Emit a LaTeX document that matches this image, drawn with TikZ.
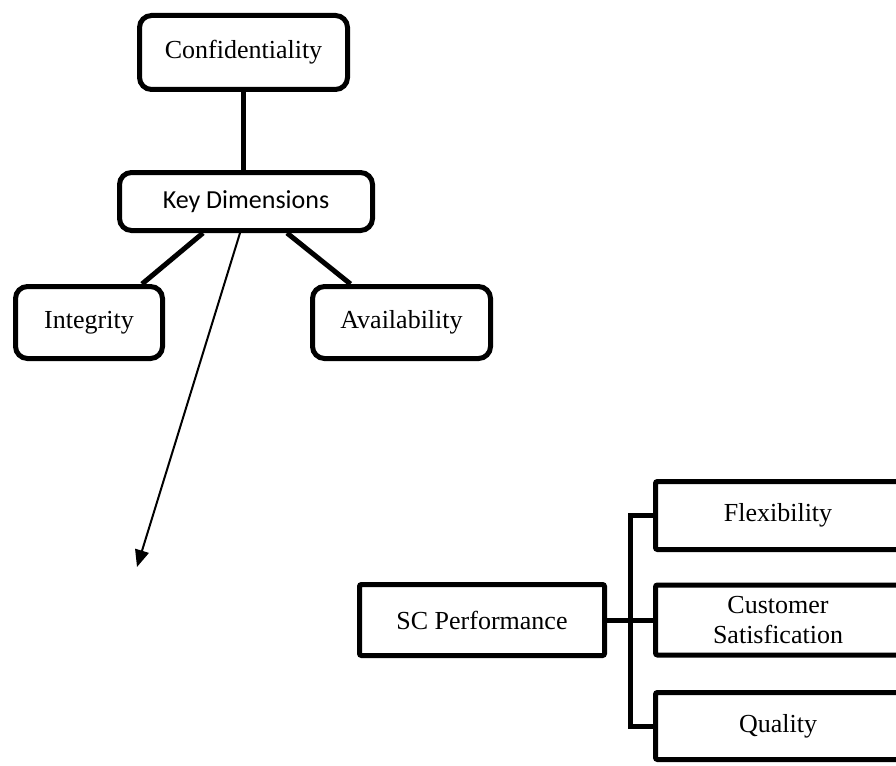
\documentclass[tikz,border=0pt]{standalone}
\usepackage{fontspec}
\setmainfont{Liberation Serif}
\newfontfamily\calibri{Carlito}
\usetikzlibrary{arrows.meta}

\begin{document}
\begin{tikzpicture}[x=1pt,y=-1pt,
	rbox/.style={draw, line width=5pt, rounded corners=12pt, font=\fontsize{26}{30}\selectfont},
	sbox/.style={draw, line width=5pt, rounded corners=2pt, align=center, font=\fontsize{26}{30}\selectfont},
	link/.style={line width=5pt}]
	\useasboundingbox (0,0) rectangle (896,765);
	\clip (0,0) rectangle (896,765);
	% security triangle
	\node[rbox, minimum width=208pt, minimum height=74pt] (conf) at (243.5,52.5) {Confidentiality};
	\node[rbox, minimum width=253pt, minimum height=58pt, font=\calibri\fontsize{26}{30}\selectfont] (keydim) at (246,201.5) {Key Dimensions};
	\node[rbox, minimum width=147pt, minimum height=72pt] (integ) at (89,322.5) {Integrity};
	\node[rbox, minimum width=178pt, minimum height=72pt] (avail) at (401.5,322.5) {Availability};
	\draw[link] (conf.south) -- (conf.south |- keydim.north);
	\draw[link] ([xshift=-43pt]keydim.south) -- ([xshift=53pt]integ.north);
	\draw[link] ([xshift=41pt]keydim.south) -- ([xshift=-51pt]avail.north);
	\coordinate (arrowend) at (137,567);
	\draw[line width=2pt, -{Triangle[length=17pt,width=14pt]}] ([xshift=-6pt]keydim.south) -- (arrowend);
	% supply chain performance
	\node[sbox, minimum width=245pt, minimum height=71pt] (scperf) at (482,620) {SC Performance};
	\node[sbox, minimum width=245pt, minimum height=68pt] (flex) at (778,515.5) {Flexibility};
	\node[sbox, minimum width=245pt, minimum height=70pt] (cust) at (778,620) {Customer\\Satisfication};
	\node[sbox, minimum width=245pt, minimum height=67pt] (qual) at (778,726) {Quality};
	\coordinate (bus) at (630,620);
	\draw[link] (flex.west) -| (bus) |- (qual.west);
	\draw[link] (scperf.east) -- (cust.west);
\end{tikzpicture}
\end{document}
